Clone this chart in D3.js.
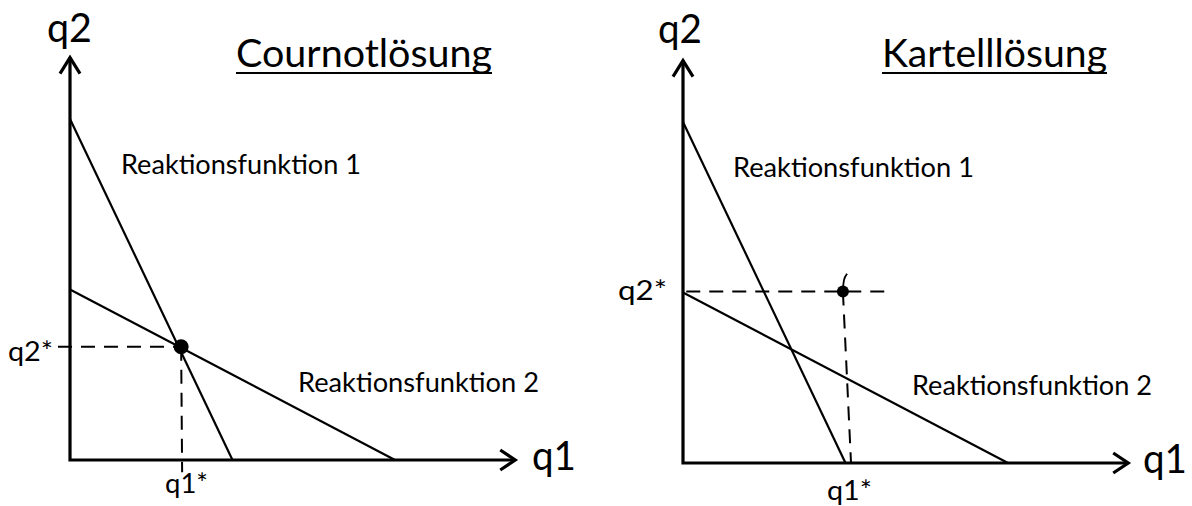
<!DOCTYPE html>
<html>
<head>
<meta charset="utf-8">
<script src="https://cdn.jsdelivr.net/npm/d3@7"></script>
<style>
  html, body { margin: 0; padding: 0; background: #fff; }
  svg text { font-family: Lato, "Open Sans", sans-serif; fill: #000; }
</style>
</head>
<body>
<svg id="chart" width="1192" height="506"></svg>
<script>
// Reaktionsfunktionen (q1, q2) – gleiche Geraden in beiden Diagrammen
const reaction1 = [{ q1: 0, q2: 10 }, { q1: 5, q2: 0 }];
const reaction2 = [{ q1: 0, q2: 5 }, { q1: 10, q2: 0 }];

// Gleichgewichtspunkte
const cournotPoint = { q1: 3.42, q2: 3.32 };
const cartelPoint = { q1: 4.92, q2: 5.03 };

// Achsenlänge in Mengeneinheiten
const axisEnd = { q1: 13.7, q2: 11.8 };

const titles = ["Cournotlösung", "Kartelllösung"];
const curveLabels = ["Reaktionsfunktion 1", "Reaktionsfunktion 2"];
const axisLabels = ["q1", "q2"];
const starLabels = ["q1*", "q2*"];

const svg = d3.select("#chart");

// Layout der beiden Diagramme (Pixel)
const panels = [
  {
    title: titles[0], point: cournotPoint, ox: 70, oy: 460, r: 7.5,
    titlePos: [236, 67, 256],
    rf1Pos: [121, 174, 240], rf2Pos: [298, 392, 241],
    q1Pos: [532, 470, 44], q2Pos: [47, 42, 45],
    q1StarPos: [165, 493, 43], q2StarPos: [8, 361, 45],
    hGuide: [-0.37, cournotPoint.q1], vGuide: [3.45, -0.36], curl: false
  },
  {
    title: titles[1], point: cartelPoint, ox: 683, oy: 463, r: 6,
    titlePos: [882, 67, 225],
    rf1Pos: [733, 177, 241], rf2Pos: [912, 395, 240],
    q1Pos: [1143, 473, 44], q2Pos: [658, 43, 44],
    q1StarPos: [827, 500, 45], q2StarPos: [618, 300, 49],
    hGuide: [0.1, 6.28], vGuide: [5.17, 0], curl: true
  }
];

function addText(g, str, pos, size) {
  return g.append("text")
    .attr("x", pos[0]).attr("y", pos[1])
    .attr("font-size", size)
    .attr("textLength", pos[2])
    .attr("lengthAdjust", "spacingAndGlyphs")
    .text(str);
}

panels.forEach(p => {
  const x = d3.scaleLinear().domain([0, 10]).range([p.ox, p.ox + 325]);
  const y = d3.scaleLinear().domain([0, 10]).range([p.oy, p.oy - 341]);
  const line = d3.line().x(d => x(d.q1)).y(d => y(d.q2));
  const g = svg.append("g");

  // Achsen mit Pfeilspitzen
  const xEnd = x(axisEnd.q1), yEnd = y(axisEnd.q2);
  g.append("path")
    .attr("d", `M${x(0)},${yEnd}V${y(0)}H${xEnd}`)
    .attr("fill", "none").attr("stroke", "#000").attr("stroke-width", 3.2);
  g.append("path")
    .attr("d", `M${x(0) - 10},${yEnd + 16}L${x(0)},${yEnd}L${x(0) + 10},${yEnd + 16}`)
    .attr("fill", "none").attr("stroke", "#000").attr("stroke-width", 3.2);
  g.append("path")
    .attr("d", `M${xEnd - 15},${y(0) - 10}L${xEnd},${y(0)}L${xEnd - 15},${y(0) + 10}`)
    .attr("fill", "none").attr("stroke", "#000").attr("stroke-width", 3.2);

  // Reaktionsfunktionen
  [reaction1, reaction2].forEach(rf => {
    g.append("path").datum(rf)
      .attr("d", line)
      .attr("fill", "none").attr("stroke", "#000").attr("stroke-width", 2.2);
  });

  // gestrichelte Hilfslinien
  const pt = p.point;
  g.append("path")
    .datum([{ q1: p.hGuide[0], q2: pt.q2 }, { q1: p.hGuide[1], q2: pt.q2 }])
    .attr("d", line)
    .attr("fill", "none").attr("stroke", "#000").attr("stroke-width", 2)
    .attr("stroke-dasharray", "14,9");
  g.append("path")
    .datum([pt, { q1: p.vGuide[0], q2: p.vGuide[1] }])
    .attr("d", line)
    .attr("fill", "none").attr("stroke", "#000").attr("stroke-width", 2)
    .attr("stroke-dasharray", "14,9");

  if (p.curl) {
    g.append("path")
      .datum([{ q1: pt.q1 + 0.13, q2: pt.q2 + 0.52 }, { q1: pt.q1 + 0.02, q2: pt.q2 + 0.38 }, { q1: pt.q1, q2: pt.q2 }])
      .attr("d", line.curve(d3.curveBasis))
      .attr("fill", "none").attr("stroke", "#000").attr("stroke-width", 1.8);
    line.curve(d3.curveLinear);
  }

  g.append("circle")
    .attr("cx", x(pt.q1)).attr("cy", y(pt.q2)).attr("r", p.r)
    .attr("fill", "#000");

  // Beschriftungen
  addText(g, p.title, p.titlePos, 38);
  g.append("line")
    .attr("x1", p.titlePos[0]).attr("x2", p.titlePos[0] + p.titlePos[2])
    .attr("y1", p.titlePos[1] + 6).attr("y2", p.titlePos[1] + 6)
    .attr("stroke", "#000").attr("stroke-width", 2.2);
  addText(g, curveLabels[0], p.rf1Pos, 26);
  addText(g, curveLabels[1], p.rf2Pos, 26);
  addText(g, axisLabels[0], p.q1Pos, 40);
  addText(g, axisLabels[1], p.q2Pos, 40);
  addText(g, starLabels[0], p.q1StarPos, 26);
  addText(g, starLabels[1], p.q2StarPos, 26);
});
</script>
</body>
</html>
